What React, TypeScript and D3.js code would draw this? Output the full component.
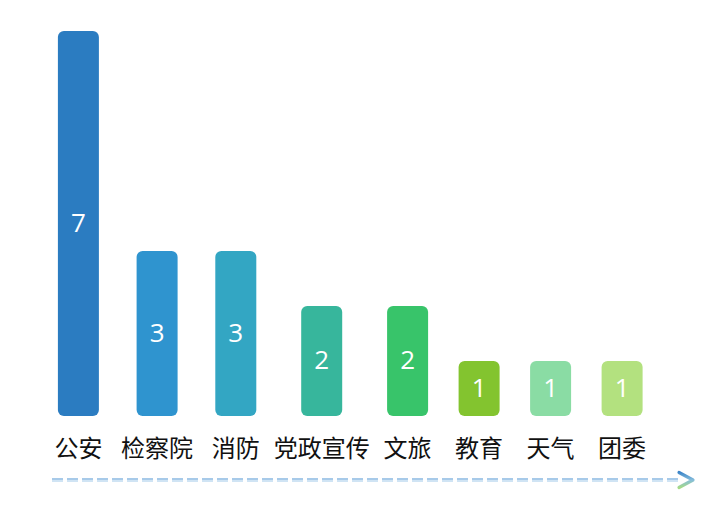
import React from "react";
import { select, scaleLinear, max } from "d3";

const categories = ["公安", "检察院", "消防", "党政宣传", "文旅", "教育", "天气", "团委"];
const counts = [7, 3, 3, 2, 2, 1, 1, 1];
const barColors = [
  "#2b7cc1",
  "#2f94cf",
  "#33a6c3",
  "#37b69c",
  "#38c46a",
  "#83c42f",
  "#8adca4",
  "#b3e17f",
];

const dimensions = {
  width: 718,
  height: 508,
  margin: { top: 31, right: 20, bottom: 91, left: 64 },
};

export default function App() {
  const svgRef = React.useRef<SVGSVGElement | null>(null);
  const { width, height, margin } = dimensions;

  React.useEffect(() => {
    const svg = select(svgRef.current);
    const labelSize = 24;
    const perChar = labelSize * 0.6;
    const gap = 42.7;
    const barWidth = 41;
    const baseline = height - margin.bottom - 1;

    // slots grow with the label length, laid side by side
    const widths = categories.map((c) => c.length * perChar);
    let cursor = margin.left;
    const centers = widths.map((w) => {
      const c = cursor + w / 2;
      cursor += w + gap;
      return c;
    });

    const y = scaleLinear()
      .domain([0, max(counts)!])
      .range([baseline, margin.top]);

    const marks = categories.map((name, i) => ({
      name,
      value: counts[i],
      color: barColors[i],
      cx: centers[i],
      top: y(counts[i]),
    }));

    const bars = svg.append("g").attr("class", "bars");
    bars
      .selectAll("rect")
      .data(marks)
      .join("rect")
      .attr("x", (d) => d.cx - barWidth / 2)
      .attr("y", (d) => d.top)
      .attr("width", barWidth)
      .attr("height", (d) => baseline - d.top)
      .attr("rx", 6)
      .attr("ry", 6)
      .style("fill", (d) => d.color);

    bars
      .selectAll("text")
      .data(marks)
      .join("text")
      .attr("x", (d) => d.cx)
      .attr("y", (d) => (d.top + baseline) / 2 - 2)
      .attr("text-anchor", "middle")
      .attr("dominant-baseline", "central")
      .style("font-family", "'Open Sans', 'Noto Sans', sans-serif")
      .style("font-size", "26px")
      .style("fill", "#ffffff")
      .text((d) => d.value);

    svg
      .append("g")
      .attr("class", "labels")
      .selectAll("text")
      .data(marks)
      .join("text")
      .attr("x", (d) => d.cx)
      .attr("y", baseline + 30)
      .attr("text-anchor", "middle")
      .attr("dominant-baseline", "central")
      .style("font-family", "'Noto Sans CJK SC', sans-serif")
      .style("font-size", `${labelSize}px`)
      .style("fill", "#111111")
      .text((d) => d.name);

    // dashed double line with gradient arrowhead
    const axisY = baseline + 64;
    const lineStart = 52;
    const lineEnd = width - 40;
    const defs = svg.append("defs");
    const grad = defs
      .append("linearGradient")
      .attr("id", "arrowGrad")
      .attr("gradientUnits", "userSpaceOnUse")
      .attr("x1", 0)
      .attr("y1", axisY - 8)
      .attr("x2", 0)
      .attr("y2", axisY + 8);
    grad.append("stop").attr("offset", "0%").attr("stop-color", "#3a83c8");
    grad.append("stop").attr("offset", "50%").attr("stop-color", "#86bddb");
    grad.append("stop").attr("offset", "100%").attr("stop-color", "#a6db84");

    const axis = svg.append("g").attr("class", "arrow");
    axis
      .append("line")
      .attr("x1", lineStart)
      .attr("x2", lineEnd)
      .attr("y1", axisY - 1)
      .attr("y2", axisY - 1)
      .attr("stroke", "#a7cae9")
      .attr("stroke-width", 2)
      .attr("stroke-dasharray", "11 4");
    axis
      .append("line")
      .attr("x1", lineStart)
      .attr("x2", lineEnd)
      .attr("y1", axisY + 1)
      .attr("y2", axisY + 1)
      .attr("stroke", "#d0e4f4")
      .attr("stroke-width", 2)
      .attr("stroke-dasharray", "11 4");
    axis
      .append("path")
      .attr(
        "d",
        `M${lineEnd + 1},${axisY - 7.5} L${lineEnd + 15},${axisY} L${lineEnd + 1},${axisY + 7.5}`
      )
      .attr("fill", "none")
      .attr("stroke", "url(#arrowGrad)")
      .attr("stroke-width", 3.2)
      .attr("stroke-linecap", "round")
      .attr("stroke-linejoin", "round");

    return () => {
      svg.selectAll("*").remove();
    };
  }, []);

  return (
    <svg
      ref={svgRef}
      width={width}
      height={height}
      style={{ position: "absolute", left: 0, top: 0, background: "#ffffff" }}
    />
  );
}
